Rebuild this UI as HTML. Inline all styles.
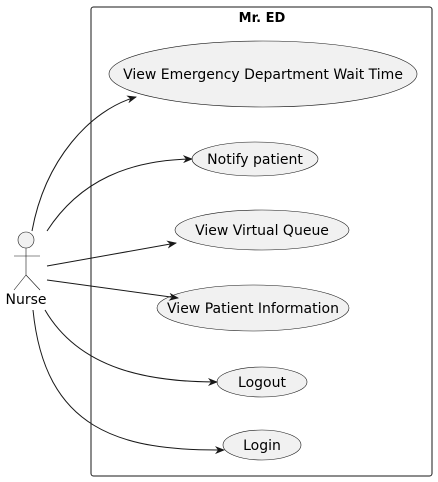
<!DOCTYPE html>
<html><head><meta charset="utf-8"><style>body{margin:0;background:#fff}svg{display:block}</style></head>
<body>
<svg width="438" height="482" xmlns="http://www.w3.org/2000/svg" font-family="DejaVu Sans, sans-serif">
<defs><marker id="a" markerWidth="10" markerHeight="8" refX="9" refY="4" orient="auto" markerUnits="userSpaceOnUse"><path d="M0,0 L10,4 L0,8 L3,4 Z" fill="#181818"/></marker></defs>
<rect x="91" y="7" width="341" height="469" rx="2.5" fill="none" stroke="#181818" stroke-width="1"/>
<text x="262" y="22" font-size="13" font-weight="bold" text-anchor="middle">Mr. ED</text>
<g fill="#f1f1f1" stroke="#181818" stroke-width="0.6">
<ellipse cx="263" cy="74" rx="154" ry="33"/>
<ellipse cx="255" cy="159" rx="63" ry="17"/>
<ellipse cx="262" cy="230" rx="87" ry="20"/>
<ellipse cx="253" cy="308" rx="96" ry="23"/>
<ellipse cx="262" cy="382" rx="45" ry="15"/>
<ellipse cx="262" cy="445" rx="39" ry="15"/>
</g>
<g font-size="14" text-anchor="middle" fill="#000">
<text x="263" y="79">View Emergency Department Wait Time</text>
<text x="255" y="164">Notify patient</text>
<text x="262" y="235">View Virtual Queue</text>
<text x="253" y="313">View Patient Information</text>
<text x="262" y="387">Logout</text>
<text x="262" y="450">Login</text>
</g>
<g stroke="#181818" fill="none" stroke-width="1">
<circle cx="26" cy="240" r="8" fill="#f1f1f1" stroke-width="0.6"/>
<path d="M26,248 V275 M14,256 H40 M26,275 L14,290 M26,275 L40,290" stroke-width="0.6"/>
<path d="M32,231 C45,160 90,110 136,97" marker-end="url(#a)"/>
<path d="M47,231 C80,180 130,160 192,159" marker-end="url(#a)"/>
<path d="M47,266 L176,243" marker-end="url(#a)"/>
<path d="M47,280 L178,298" marker-end="url(#a)"/>
<path d="M45,310 C80,370 150,382 217,382" marker-end="url(#a)"/>
<path d="M33,310 C45,430 120,451 224,450" marker-end="url(#a)"/>
</g>
<text x="26" y="304" font-size="14" text-anchor="middle">Nurse</text>
</svg>
</body></html>
